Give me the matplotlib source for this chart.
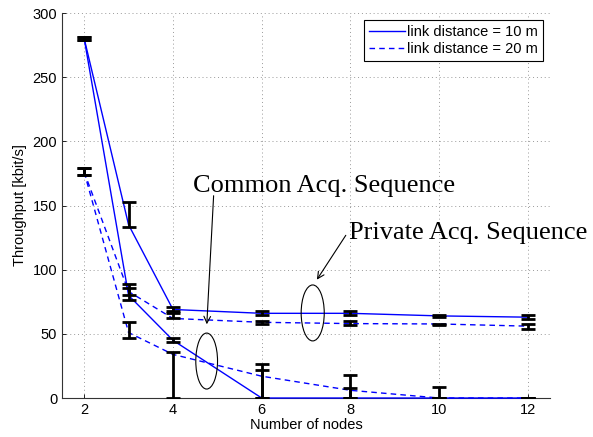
import numpy as np
import matplotlib
matplotlib.use('Agg')
import matplotlib.pyplot as plt
from matplotlib.patches import Ellipse

plt.rcParams['font.family'] = ['Liberation Sans', 'DejaVu Sans']

# number of nodes in the network
nodes = [2, 3, 4, 6, 8, 10, 12]

# private acquisition sequence: mean, lower and upper bound
priv_10 = [280, 135, 69, 66, 66, 64, 63]
priv_10_lo = [279, 133, 68, 65, 65, 63, 61.6]
priv_10_hi = [281, 153, 71, 68, 68, 64.5, 64.7]

priv_20 = [176, 83, 62, 59, 58, 57.7, 56]
priv_20_lo = [174, 80, 62, 58, 57, 57, 54]
priv_20_hi = [179, 86, 66, 60, 60, 58, 57.7]

# common acquisition sequence
comm_10 = [280, 80, 45, 0, 0, 0, 0]
comm_10_lo = [279, 76, 43.6, 0, 0, 0, 0]
comm_10_hi = [281, 89, 46.8, 22, 8, 0, 0]

comm_20 = [176, 51, 34, 17, 6, 0, 0]
comm_20_lo = [174, 47, 0, 0, 0, 0, 0]
comm_20_hi = [179, 59, 36, 26.5, 18, 8.5, 0]

fig = plt.figure(figsize=(5.93, 4.37), dpi=100)
ax = fig.add_axes([0.1046, 0.0892, 0.823, 0.881])

blue = '#0000ff'
dash = (0, (4, 3))
ax.plot(nodes, priv_10, color=blue, lw=1, label='link distance = 10 m', zorder=2)
ax.plot(nodes, priv_20, color=blue, lw=1, ls=dash, label='link distance = 20 m', zorder=2)
ax.plot(nodes, comm_10, color=blue, lw=1, zorder=2.6, clip_on=False)
ax.plot(nodes, comm_20, color=blue, lw=1, ls=dash, zorder=2.6, clip_on=False)

for m, lo, hi in [(priv_10, priv_10_lo, priv_10_hi), (priv_20, priv_20_lo, priv_20_hi),
                  (comm_10, comm_10_lo, comm_10_hi), (comm_20, comm_20_lo, comm_20_hi)]:
    m = np.array(m); lo = np.array(lo); hi = np.array(hi)
    ax.errorbar(nodes, m, yerr=[m - lo, hi - m], fmt='none', ecolor='black',
                elinewidth=2, capsize=5, capthick=2, zorder=3)

ax.set_xlim(1.5, 12.5)
ax.set_ylim(0, 300)
ax.set_xticks([2, 4, 6, 8, 10, 12])
ax.set_yticks(range(0, 301, 50))
ax.tick_params(direction='in', length=3, labelsize=10.5, width=0.6)
ax.grid(True, color='#999999', ls=(0, (1, 3)), lw=0.7)
for s in ['top', 'right']:
    ax.spines[s].set_visible(False)
for s in ['left', 'bottom']:
    ax.spines[s].set_color('#333333')
    ax.spines[s].set_linewidth(0.8)
ax.set_xlabel('Number of nodes', fontsize=10.5, labelpad=1)
ax.set_ylabel('Throughput [kbit/s]', fontsize=10.5, labelpad=4)

leg = ax.legend(loc='upper right', fontsize=10.5, handlelength=2.5, handletextpad=0.1,
                borderpad=0.35, labelspacing=0.2, fancybox=False, framealpha=1,
                borderaxespad=0.5)
leg.get_frame().set_edgecolor('black')
leg.get_frame().set_linewidth(0.8)

# annotations for the two sequence groups
serif = ['Liberation Serif', 'DejaVu Serif']
ax.text(4.45, 160.6, 'Common Acq. Sequence', fontsize=19, family=serif,
        va='baseline', ha='left', clip_on=False)
ax.text(7.96, 124, 'Private Acq. Sequence', fontsize=19, family=serif,
        va='baseline', ha='left', clip_on=False)
ax.add_patch(Ellipse((4.76, 28.8), 0.49, 43.6, fill=False, ec='black', lw=0.8, zorder=4))
ax.add_patch(Ellipse((7.15, 66.3), 0.52, 43.6, fill=False, ec='black', lw=0.8, zorder=4))
ax.annotate('', xy=(4.76, 55.3), xytext=(4.92, 159.8),
            arrowprops=dict(arrowstyle='->', color='black', lw=0.8, mutation_scale=12))
ax.annotate('', xy=(7.21, 90.4), xytext=(7.93, 128.6),
            arrowprops=dict(arrowstyle='->', color='black', lw=0.8, mutation_scale=12))

fig.savefig('out.png', dpi=100)
